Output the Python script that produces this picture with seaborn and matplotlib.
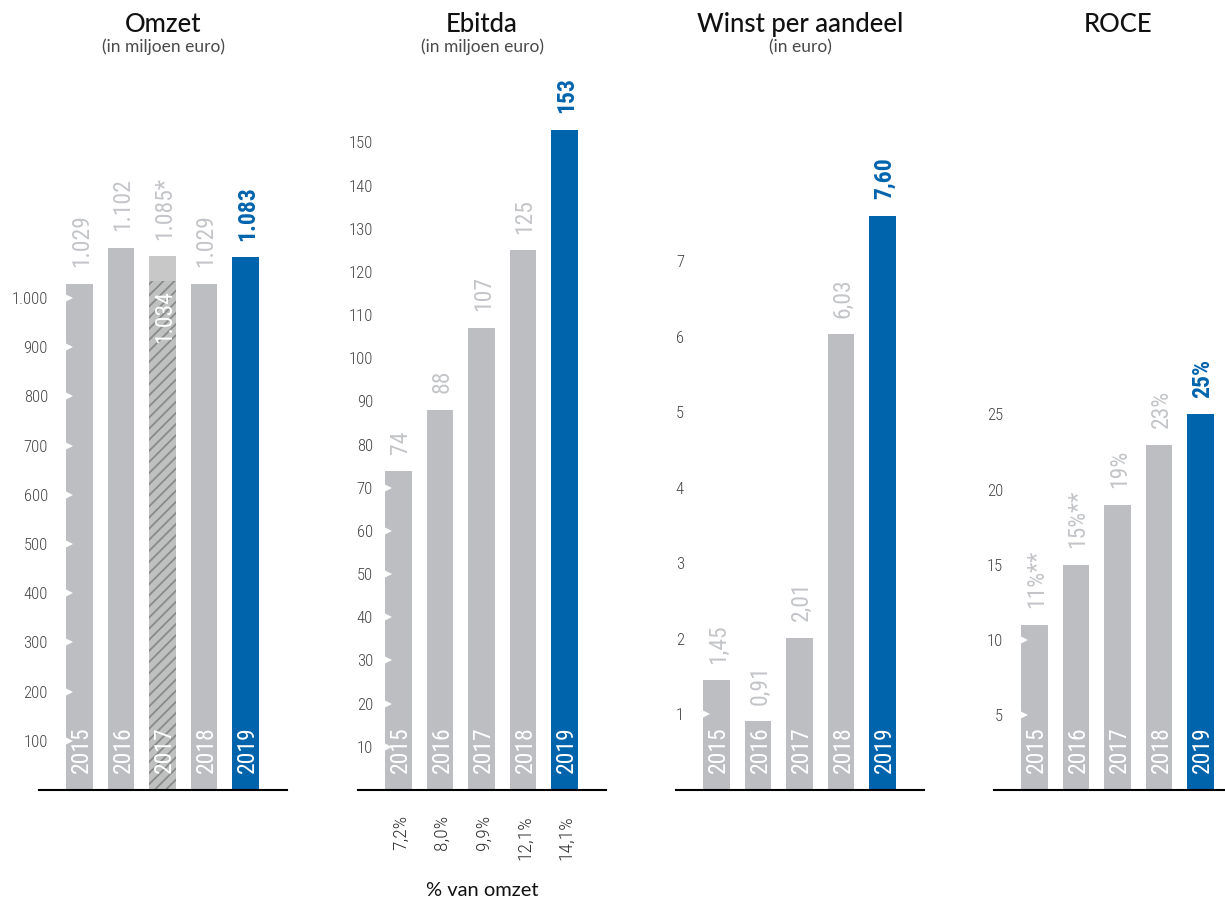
import matplotlib
matplotlib.use("Agg")
import matplotlib.pyplot as plt
import matplotlib.transforms as mtransforms
from matplotlib import font_manager
import pandas as pd
import seaborn as sns

# ---- data -------------------------------------------------------------
years = ["2015", "2016", "2017", "2018", "2019"]

omzet = [1029, 1102, 1085, 1029, 1083]
omzet_labels = ["1.029", "1.102", "1.085*", "1.029", "1.083"]
omzet_2017_part = 1034
omzet_2017_part_label = "1.034"
omzet_ticks = [100, 200, 300, 400, 500, 600, 700, 800, 900, 1000]
omzet_ticklabels = ["100", "200", "300", "400", "500", "600", "700", "800", "900", "1.000"]

ebitda = [74, 88, 107, 125, 153]
ebitda_labels = ["74", "88", "107", "125", "153"]
ebitda_pct = ["7,2%", "8,0%", "9,9%", "12,1%", "14,1%"]
ebitda_ticks = [10, 20, 30, 40, 50, 60, 70, 80, 90, 100, 110, 120, 130, 140, 150]

wpa = [1.45, 0.91, 2.01, 6.03, 7.60]
wpa_labels = ["1,45", "0,91", "2,01", "6,03", "7,60"]
wpa_ticks = [1, 2, 3, 4, 5, 6, 7]

roce = [11, 15, 19, 23, 25]
roce_labels = ["11%**", "15%**", "19%", "23%", "25%"]
roce_ticks = [5, 10, 15, 20, 25]

# ---- style ------------------------------------------------------------
sns.set_style("white")

available = {f.name for f in font_manager.fontManager.ttflist}


def pick(*names):
    for n in names:
        if n in available:
            return n
    return "DejaVu Sans"


NARROW = pick("Liberation Sans Narrow", "Roboto Condensed", "Open Sans Condensed",
              "DejaVu Sans Condensed", "Roboto")
HEAD = pick("Lato", "Open Sans", "Roboto")
plt.rcParams["font.family"] = [HEAD, "DejaVu Sans"]
plt.rcParams["hatch.linewidth"] = 1.3

narrow_scale = 1.0 if "Narrow" in NARROW or "Condensed" in NARROW else 0.82

GREY = "#bcbec1"
GREY_LIGHT = "#c7c8c7"
LABEL_GREY = "#c3c5c8"
BLUE = "#0064ad"
TICK = "#444444"

W, H = 1225, 902
fig = plt.figure(figsize=(W / 100, H / 100), dpi=100)
fig.patch.set_facecolor("white")

AX_BOTTOM_PX = 790
AX_TOP_PX = 60
AX_W_PX = 248
BAR_W = 0.65
bottom = (H - AX_BOTTOM_PX) / H
height = (AX_BOTTOM_PX - AX_TOP_PX) / H


def panel(left_px, values, labels, ticks, ticklabels, ymax, title, subtitle,
          label_inset_px, colors=None):
    ax = fig.add_axes([left_px / W, bottom, AX_W_PX / W, height])
    df = pd.DataFrame({"jaar": years, "waarde": values})
    if colors is None:
        colors = [GREY, GREY, GREY, GREY, BLUE]
    palette = dict(zip(years, colors))
    sns.barplot(data=df, x="jaar", y="waarde", hue="jaar", palette=palette,
                order=years, hue_order=years, width=BAR_W, saturation=1,
                errorbar=None, legend=False, linewidth=0, ax=ax)
    ax.set_xlim(-0.976, 5.0)
    ax.set_ylim(0, ymax)
    ax.set_xlabel("")
    ax.set_ylabel("")
    ax.set_xticks([])
    for s in ("left", "right", "top"):
        ax.spines[s].set_visible(False)
    ax.spines["bottom"].set_color("black")
    ax.spines["bottom"].set_linewidth(1.5)
    ax.set_yticks(ticks)
    ax.set_yticklabels(ticklabels, fontfamily=NARROW, fontsize=12 * narrow_scale,
                       color=TICK, fontweight="light")
    ax.tick_params(axis="y", length=0, pad=-label_inset_px * 0.72)

    # notches on the left edge of the first bar at every tick it passes
    notch_y = [t for t in ticks if t < values[0]]
    ax.plot([-BAR_W / 2] * len(notch_y), notch_y, linestyle="none", marker=">",
            markersize=10, color="white", markeredgewidth=0, zorder=5)

    # value labels above the bars
    for i, (v, lab) in enumerate(zip(values, labels)):
        last = i == len(values) - 1
        ax.annotate(lab, (i, v), xytext=(1.5, 12), textcoords="offset points",
                    rotation=90, ha="center", va="bottom",
                    color=BLUE if last else LABEL_GREY,
                    fontweight="bold" if last else "normal",
                    fontfamily=NARROW, fontsize=17 * narrow_scale)
    # year labels inside the bars
    for i, y in enumerate(years):
        ax.annotate(y, (i, 0), xytext=(1.5, 12.5), textcoords="offset points",
                    rotation=90, ha="center", va="bottom", color="white",
                    fontweight="normal",
                    fontfamily=NARROW, fontsize=17 * narrow_scale, zorder=6)

    trans = mtransforms.blended_transform_factory(ax.transAxes, fig.transFigure)
    ax.text(0.5, 1 - 32 / H, title, transform=trans, ha="center", va="baseline",
            fontsize=18.5, fontweight="medium", color="#111111", fontfamily=HEAD)
    if subtitle:
        ax.text(0.5, 1 - 52 / H, subtitle, transform=trans, ha="center",
                va="baseline", fontsize=12.5, color="#4a4a4a", fontfamily=HEAD,
                fontweight="normal")
    return ax


# Omzet
ax1 = panel(39, omzet, omzet_labels, omzet_ticks, omzet_ticklabels, 1484,
            "Omzet", "(in miljoen euro)", 9,
            colors=[GREY, GREY, GREY_LIGHT, GREY, BLUE])
# hatched part of the 2017 bar
part = pd.DataFrame({"jaar": ["2017"], "waarde": [omzet_2017_part]})
n_before = len(ax1.patches)
sns.barplot(data=part, x="jaar", y="waarde", order=years, width=BAR_W,
            color="#bfc0c0", saturation=1, errorbar=None, linewidth=0, ax=ax1)
for p in ax1.patches[n_before:]:
    p.set_hatch("///")
    p.set_edgecolor("#8a8a8a")
    p.set_linewidth(0)
    p.set_zorder(2)
ax1.set_xlim(-0.976, 5.0)
ax1.set_xlabel("")
ax1.set_ylabel("")
ax1.set_xticks([])
ax1.annotate(omzet_2017_part_label, (2, omzet_2017_part), xytext=(1.5, -6),
             textcoords="offset points", rotation=90, ha="center", va="top",
             color="white", fontfamily=NARROW, fontsize=17 * narrow_scale,
             fontweight="normal", zorder=6)

# Ebitda
ax2 = panel(358, ebitda, ebitda_labels, ebitda_ticks,
            [str(t) for t in ebitda_ticks], 169.1, "Ebitda", "(in miljoen euro)", 15)
for i, pct in enumerate(ebitda_pct):
    ax2.annotate(pct, (i, 0), xytext=(1.5, -18), textcoords="offset points",
                 rotation=90, ha="center", va="top", color="#333333",
                 fontfamily=NARROW, fontsize=14 * narrow_scale, fontweight="light",
                 annotation_clip=False)
trans2 = mtransforms.blended_transform_factory(ax2.transAxes, fig.transFigure)
ax2.text(0.5, 1 - 890 / H, "% van omzet", transform=trans2, ha="center",
         va="center", fontsize=14.5, color="#111111", fontfamily=HEAD)

# Winst per aandeel
ax3 = panel(676, wpa, wpa_labels, wpa_ticks, [str(t) for t in wpa_ticks], 9.66,
            "Winst per aandeel", "(in euro)", 8)

# ROCE
ax4 = panel(994, roce, roce_labels, roce_ticks, [str(t) for t in roce_ticks], 48.6,
            "ROCE", None, 9)

fig.savefig("out.png", dpi=100, facecolor="white")
